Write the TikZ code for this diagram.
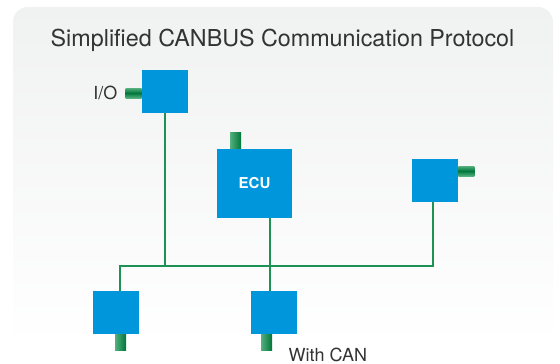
\documentclass[tikz,border=0pt]{standalone}
\usepackage{fontspec}
\setmainfont{TeX Gyre Heros}
\usetikzlibrary{positioning}

\definecolor{canblue}{RGB}{0,150,219}
\definecolor{busgreen}{RGB}{28,146,84}
\definecolor{pindark}{RGB}{0,118,58}
\definecolor{pinlight}{RGB}{84,176,126}
\definecolor{bgtop}{RGB}{240,241,241}
\definecolor{titlegray}{RGB}{51,51,51}

\tikzset{
  module/.style={fill=canblue, draw=none, inner sep=0pt},
  bus/.style={draw=busgreen, line width=1.6pt},
  vpin/.style={minimum width=11pt, minimum height=16pt, inner sep=0pt,
    left color=pinlight, right color=pindark, draw=none},
  hpin/.style={minimum width=16pt, minimum height=10pt, inner sep=0pt,
    top color=pinlight, bottom color=pinlight, middle color=pindark, draw=none},
  lbl/.style={inner sep=0pt, text=titlegray, font=\fontsize{18}{21}\selectfont}
}

\begin{document}
\begin{tikzpicture}[x=1pt,y=-1pt]

\useasboundingbox (0,0) rectangle (560,364);

% Background panel
\fill[white] (0,0) rectangle (560,364);
\shade[top color=bgtop, bottom color=white]
  (13,345) -- (13,22) arc[start angle=180,end angle=270,radius=15]
  -- (538,7) arc[start angle=270,end angle=360,radius=15] -- (553,345) -- cycle;

% Title
\node[anchor=base, inner sep=0pt, text=titlegray,
  font=\fontsize{23.3}{28}\selectfont] (title) at (282.5,46)
  {Simplified CANBUS Communication Protocol};

% Modules
\node[module, minimum width=46pt, minimum height=43pt] (io) at (165,91.5) {};
\node[module, minimum width=75pt, minimum height=69pt,
  text=white, font=\fontsize{15}{18}\selectfont\bfseries] (ecu) at (254.5,183.5) {ECU};
\node[module, minimum width=46pt, minimum height=43pt] (right) at (435,180.5) {};
\node[module, minimum width=46pt, minimum height=43pt] (left) at (116,312.5) {};
\node[module, minimum width=46pt, minimum height=43pt] (mid) at (274,312.5) {};

% Pins
\node[hpin, anchor=east] (iopin) at ([yshift=-1.5pt]io.west) {};
\node[vpin, anchor=south] (ecupin) at ([xshift=-19pt]ecu.north) {};
\node[hpin, anchor=west] (rightpin) at ([yshift=9.5pt]right.east) {};
\node[vpin, anchor=north] (leftpin) at ([xshift=4.5pt]left.south) {};
\node[vpin, anchor=north] (midpin) at ([xshift=-7.5pt]mid.south) {};

% Bus lines
\coordinate (busR) at (433,265.7);
\draw[bus] ([xshift=4pt]left.north) |- (busR) -- ([xshift=-2pt]right.south);
\draw[bus] (io.south) -- (io.south |- busR);
\draw[bus] ([xshift=15.5pt]ecu.south) -- ([xshift=-4pt]mid.north);

% Labels
\node[lbl, anchor=base east] (iolabel) at (117.5,99) {I/O};
\node[lbl, anchor=base west] (canlabel) at (288.5,361) {With CAN};

\end{tikzpicture}
\end{document}
